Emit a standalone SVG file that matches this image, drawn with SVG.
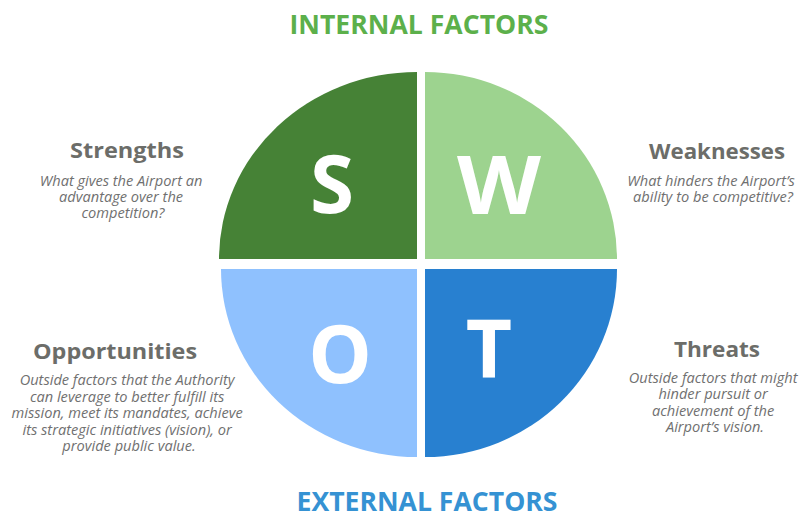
<svg xmlns="http://www.w3.org/2000/svg" width="805" height="516" viewBox="0 0 805 516">
  <style>
    .hdr { font-family: "Open Sans", "Noto Sans", sans-serif; font-weight: 700; font-size: 26px; text-anchor: middle; }
    .letter { font-family: "Open Sans", "Noto Sans", sans-serif; font-weight: 700; font-size: 80px; fill: #ffffff; text-anchor: middle; }
    .title { font-family: "Open Sans", "Noto Sans", sans-serif; font-weight: 700; font-size: 22px; fill: #6c6d69; text-anchor: middle; }
    .desc { font-family: "Open Sans", "Noto Sans", sans-serif; font-style: italic; font-size: 14.6px; fill: #707070; text-anchor: middle; }
  </style>
  <rect width="805" height="516" fill="#ffffff"/>

  <text class="hdr" x="419" y="34" fill="#5cb04b" textLength="259" lengthAdjust="spacingAndGlyphs">INTERNAL FACTORS</text>
  <text class="hdr" x="427" y="510.5" fill="#3592d3" textLength="261" lengthAdjust="spacingAndGlyphs">EXTERNAL FACTORS</text>

  <g id="quadrant-s">
    <path d="M417,259 L219,259 A198,187 0 0 1 417,72 Z" fill="#468236"/>
    <text class="letter" x="332" y="213">S</text>
  </g>
  <g id="quadrant-w">
    <path d="M425,259 L425,72 A192,187 0 0 1 617,259 Z" fill="#9dd38f"/>
    <text class="letter" x="499" y="214" textLength="84" lengthAdjust="spacingAndGlyphs">W</text>
  </g>
  <g id="quadrant-o">
    <path d="M417,269 L417,457 A196,188 0 0 1 221,269 Z" fill="#8fc1fe"/>
    <text class="letter" x="340" y="383">O</text>
  </g>
  <g id="quadrant-t">
    <path d="M425,269 L617,269 A192,188 0 0 1 425,457 Z" fill="#2880d0"/>
    <text class="letter" x="489" y="378">T</text>
  </g>

  <g id="strengths">
    <text class="title" x="127" y="158" textLength="114" lengthAdjust="spacingAndGlyphs">Strengths</text>
    <text class="desc" y="186">
      <tspan x="123">What gives the Airport an</tspan>
      <tspan x="123" dy="16">advantage over the</tspan>
      <tspan x="123" dy="16">competition?</tspan>
    </text>
  </g>
  <g id="weaknesses">
    <text class="title" x="717" y="159" textLength="136" lengthAdjust="spacingAndGlyphs">Weaknesses</text>
    <text class="desc" y="186">
      <tspan x="713">What hinders the Airport’s</tspan>
      <tspan x="713" dy="16">ability to be competitive?</tspan>
    </text>
  </g>
  <g id="opportunities">
    <text class="title" x="115" y="359" textLength="164" lengthAdjust="spacingAndGlyphs">Opportunities</text>
    <text class="desc" y="385">
      <tspan x="129">Outside factors that the Authority</tspan>
      <tspan x="129" dy="16.5">can leverage to better fulfill its</tspan>
      <tspan x="129" dy="16.5">mission, meet its mandates, achieve</tspan>
      <tspan x="129" dy="16.5">its strategic initiatives (vision), or</tspan>
      <tspan x="129" dy="16.5">provide public value.</tspan>
    </text>
  </g>
  <g id="threats">
    <text class="title" x="717" y="357" textLength="86" lengthAdjust="spacingAndGlyphs">Threats</text>
    <text class="desc" y="383">
      <tspan x="715">Outside factors that might</tspan>
      <tspan x="715" dy="16.3">hinder pursuit or</tspan>
      <tspan x="715" dy="16.3">achievement of the</tspan>
      <tspan x="715" dy="16.3">Airport’s vision.</tspan>
    </text>
  </g>
</svg>
